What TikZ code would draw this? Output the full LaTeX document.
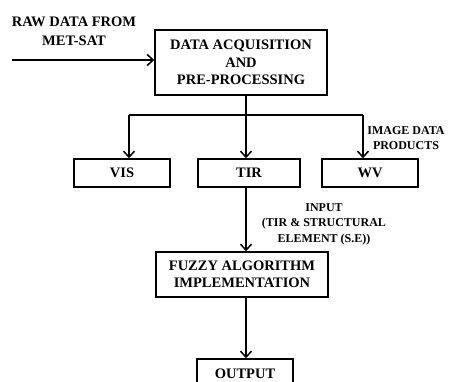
\documentclass[tikz,border=0pt]{standalone}
\usepackage{fontspec}
\setmainfont{Liberation Serif}
\usepackage{tikz}
\usetikzlibrary{arrows.meta}

\begin{document}
\begin{tikzpicture}[x=1pt,y=-1pt,>={Straight Barb[length=6pt,width=11pt]}]
		\tikzstyle{box}=[draw,line width=1.5pt,align=center,inner sep=0pt,font=\fontsize{14.5}{17.5}\selectfont\bfseries]
		\tikzstyle{lbl}=[align=center,inner sep=0pt,font=\fontsize{14.5}{19}\selectfont\bfseries]
		\tikzstyle{small}=[align=center,inner sep=0pt,font=\fontsize{12}{15.5}\selectfont\bfseries]
		\clip (0,0) rectangle (449,382);
		\useasboundingbox (0,0) rectangle (449,382);
		\node[lbl] (raw) at (74,31) {RAW DATA FROM\\MET-SAT};
		\node[box,minimum width=172,minimum height=65] (acq) at (241,62.5) {DATA ACQUISITION\\AND\\PRE-PROCESSING};
		\node[box,minimum width=96,minimum height=28] (vis) at (122,173) {VIS};
		\node[box,minimum width=102,minimum height=28] (tir) at (249,173) {TIR};
		\node[box,minimum width=96,minimum height=28] (wv) at (370,173) {WV};
		\node[small] (img) at (406,138) {IMAGE DATA\\PRODUCTS};
		\node[small] (inp) at (324,224) {INPUT\\(TIR \& STRUCTURAL\\ELEMENT (S.E))};
		\node[box,minimum width=172,minimum height=45] (fuzzy) at (242,274.5) {FUZZY ALGORITHM\\IMPLEMENTATION};
		\node[box,minimum width=96,minimum height=30] (out) at (245,374) {OUTPUT};
		\coordinate (rawin) at (12,60);
		\coordinate (j1) at (129,115);
		\coordinate (j2) at (246,115);
		\coordinate (j3) at (363,115);
		\tikzstyle{every path}+=[line width=1.5pt]
		\draw[->] (rawin) -- (rawin -| acq.west);
		\draw (j2 |- acq.south) -- (j2);
		\draw (j1) -- (j3);
		\draw[->] (j1) -- (j1 |- vis.north);
		\draw[->] (j2) -- (j2 |- tir.north);
		\draw[->] (j3) -- (j3 |- wv.north);
		\draw[->] (j2 |- tir.south) -- (j2 |- fuzzy.north);
		\draw[->] (j2 |- fuzzy.south) -- (j2 |- out.north);
\end{tikzpicture}
\end{document}
